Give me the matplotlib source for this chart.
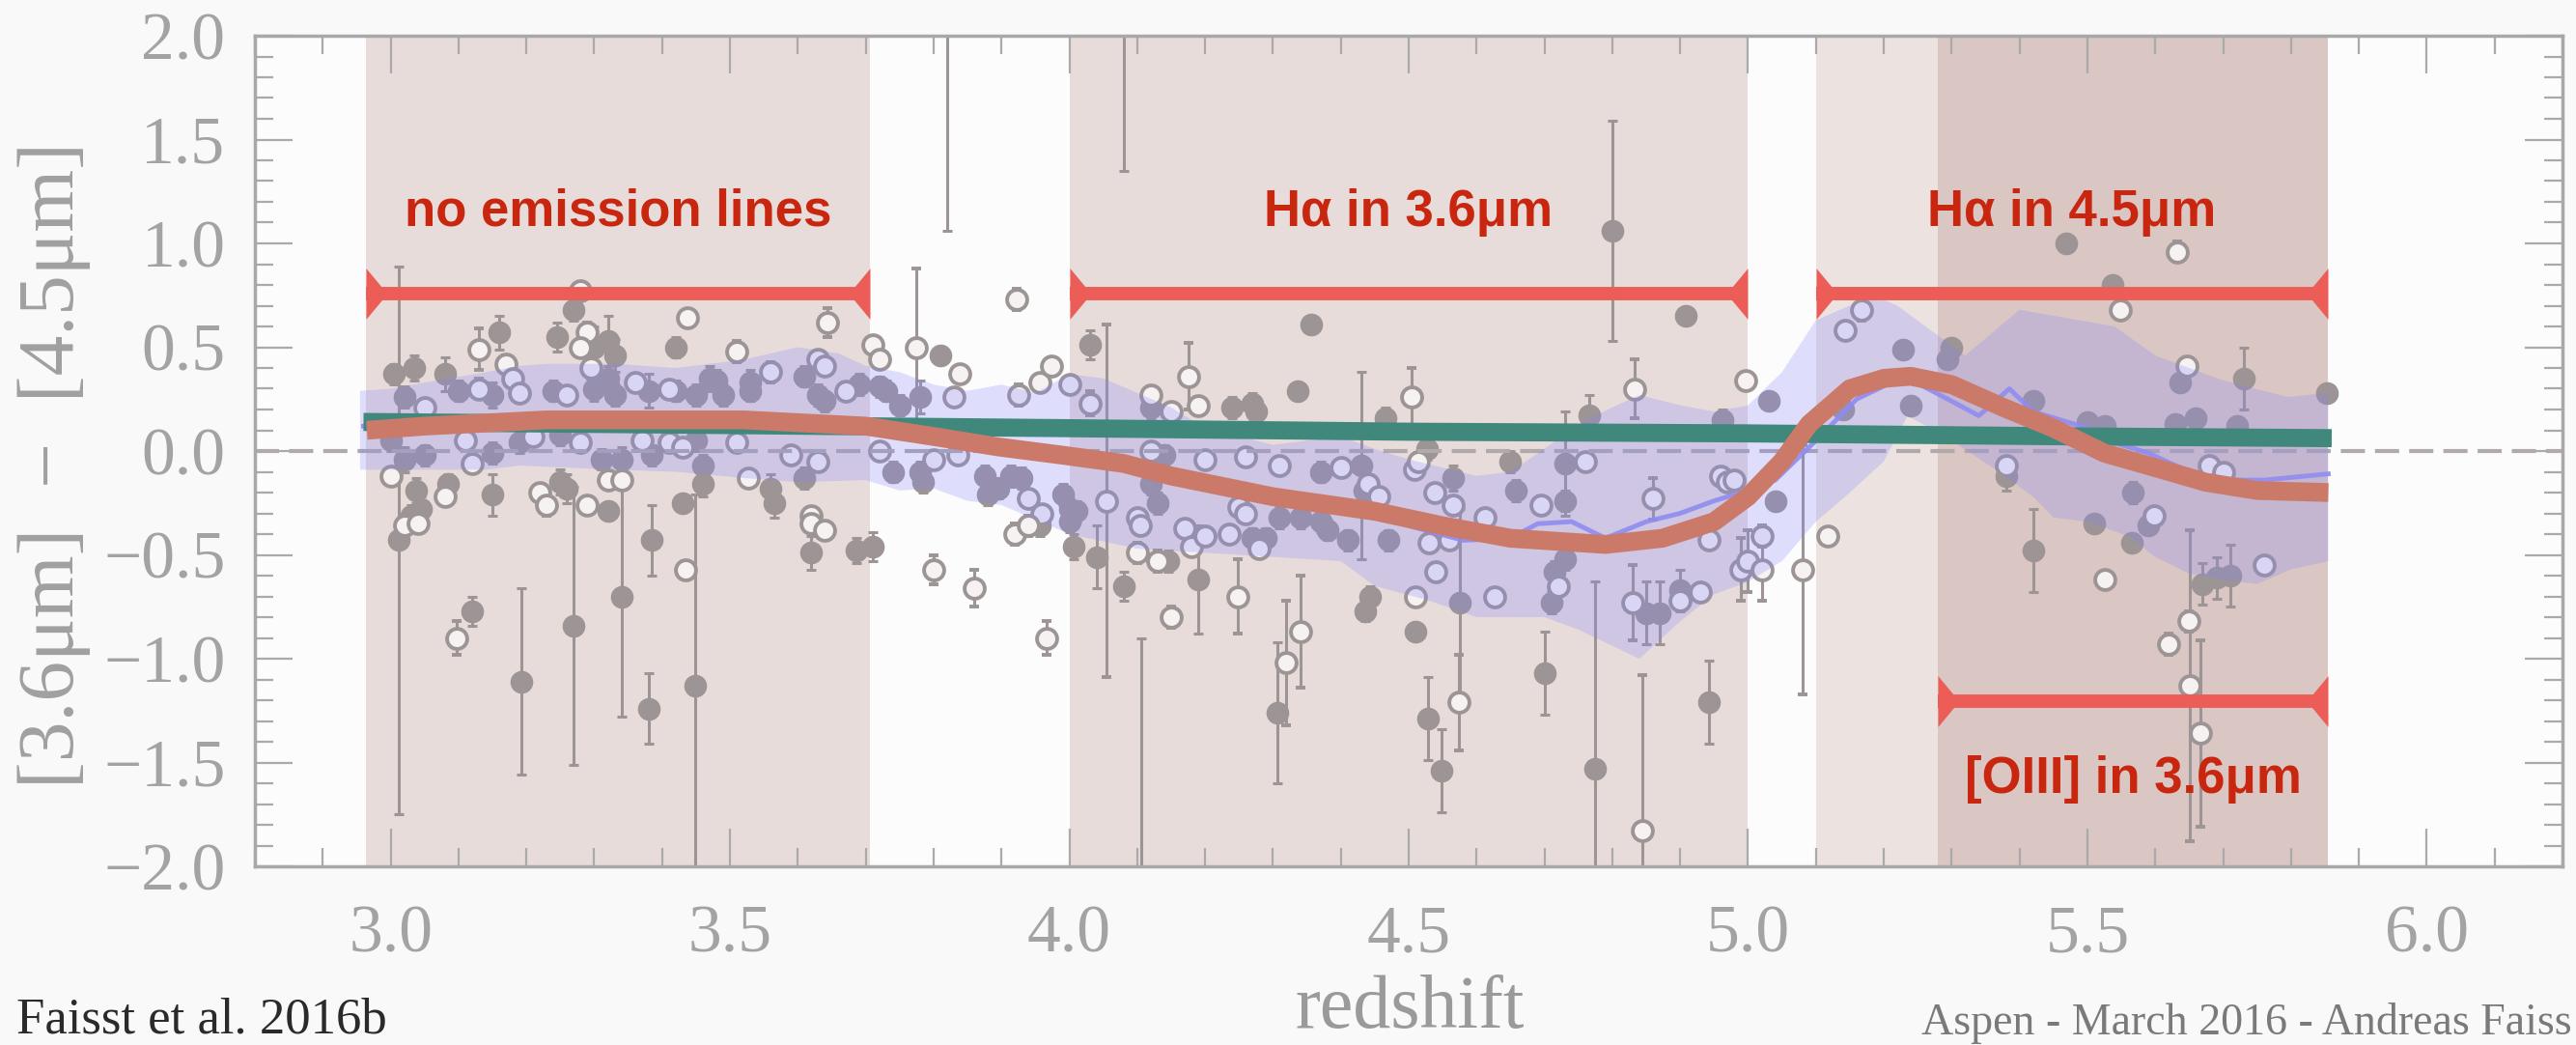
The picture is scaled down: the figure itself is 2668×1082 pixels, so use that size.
import numpy as np
import matplotlib
matplotlib.use("Agg")
import matplotlib.pyplot as plt
from matplotlib.path import Path
from matplotlib.ticker import MultipleLocator, FuncFormatter

# --- galaxies with filled symbols: redshift, colour, error
filled_z = [3.005, 3.035, 3.02, 3.08, 3.10, 3.15, 3.16, 3.245, 3.24, 3.27,
            3.30, 3.30, 3.32, 3.33, 3.32, 3.33, 3.38, 3.42, 3.42, 3.45,
            3.47, 3.48, 3.49, 3.53, 3.53, 3.61, 3.63, 3.64, 3.69, 3.72,
            3.73, 3.75, 3.78, 3.00, 3.02, 3.05, 3.15, 3.19, 3.25, 3.31,
            3.34, 3.385, 3.45, 3.46, 3.46, 3.037, 3.045, 3.03, 3.085, 3.15,
            3.25, 3.26, 3.32, 3.43, 3.56, 3.565, 3.61, 3.62, 3.686, 3.71,
            3.74, 3.78, 3.785, 3.875, 3.895, 3.914, 3.88, 3.93, 3.957, 3.99,
            4.01, 3.012, 3.12, 3.193, 3.269, 3.34, 3.384, 3.38, 3.449, 3.81,
            4.03, 4.08, 3.82, 4.80, 4.357, 4.908, 4.337, 4.24, 4.27, 4.275,
            4.12, 4.466, 4.766, 4.963, 5.03, 4.527, 4.65, 4.73, 4.14, 4.37,
            4.12, 4.13, 4.00, 4.00, 4.006, 4.04, 4.08, 4.106, 4.146, 4.19,
            4.27, 4.29, 4.31, 4.34, 4.37, 4.38, 4.307, 4.43, 4.435, 4.41,
            4.47, 4.443, 4.436, 4.566, 4.658, 4.73, 4.51, 4.528, 4.548, 4.576,
            4.70, 4.775, 4.71, 4.715, 4.73, 4.85, 4.87, 4.90, 4.943, 5.04,
            5.228, 5.30, 5.294, 5.24, 5.14, 5.42, 5.469, 5.537, 5.637, 5.73,
            5.853, 5.50, 5.525, 5.63, 5.66, 5.72, 5.38, 5.567, 5.59, 5.565,
            5.51, 5.42, 5.67, 5.69, 5.71]
filled_c = [0.37, 0.40, 0.26, 0.37, 0.29, 0.27, 0.57, 0.55, 0.29, 0.68,
            0.30, 0.50, 0.53, 0.46, 0.35, 0.27, 0.29, 0.50, 0.29, 0.27,
            0.35, 0.34, 0.27, 0.33, 0.29, 0.36, 0.27, 0.24, 0.32, 0.31,
            0.29, 0.22, 0.26, 0.05, -0.04, -0.02, -0.01, 0.04, 0.08, -0.04,
            -0.04, -0.02, 0.05, -0.07, -0.16, -0.19, -0.28, -0.31, -0.16, -0.21,
            -0.15, -0.18, -0.29, -0.25, -0.18, -0.25, -0.13, -0.49, -0.48, -0.46,
            -0.10, -0.10, -0.15, -0.12, -0.18, -0.12, -0.21, -0.13, -0.36, -0.21,
            -0.29, -0.43, -0.77, -1.11, -0.84, -0.70, -0.43, -1.24, -1.13, 0.46,
            0.51, 2.30, 2.20, 1.06, 0.61, 0.65, 0.29, 0.21, 0.23, 0.19,
            0.21, 0.16, 0.17, 0.15, 0.24, 0.01, -0.05, -0.06, -0.02, -0.10,
            -0.16, -0.25, -0.34, -0.28, -0.46, -0.51, -0.65, -2.30, -0.53, -0.62,
            -0.42, -0.42, -0.32, -0.32, -0.34, -0.38, -1.26, -0.07, -0.19, -0.43,
            -0.43, -0.70, -0.77, -0.13, -0.19, -0.24, -0.87, -1.29, -1.54, -0.73,
            -1.07, -1.53, -0.73, -0.58, -0.52, -0.78, -0.78, -0.67, -1.21, -0.24,
            0.49, 0.50, 0.44, 0.22, 0.20, 0.24, 1.00, 0.80, 0.33, 0.35,
            0.28, 0.14, 0.12, 0.13, 0.16, 0.12, -0.12, -0.20, -0.36, -0.44,
            -0.35, -0.48, -0.64, -0.61, -0.60]
filled_err = [0.05, 0.06, 0.05, 0.08, 0.05, 0.06, 0.08, 0.07, 0.05, 0.05,
              0.06, 0.10, 0.12, 0.08, 0.06, 0.05, 0.08, 0.05, 0.05, 0.05,
              0.06, 0.05, 0.05, 0.06, 0.05, 0.05, 0.05, 0.05, 0.05, 0.05,
              0.05, 0.05, 0.08, 0.05, 0.06, 0.05, 0.05, 0.05, 0.05, 0.05,
              0.06, 0.05, 0.05, 0.05, 0.06, 0.06, 0.06, 0.05, 0.05, 0.10,
              0.06, 0.07, 0.04, 0.03, 0.07, 0.07, 0.05, 0.08, 0.06, 0.07,
              0.05, 0.05, 0.05, 0.05, 0.05, 0.05, 0.05, 0.05, 0.05, 0.05,
              0.05, 1.32, 0.07, 0.45, 0.67, 0.58, 0.17, 0.17, 0.92, 0.04,
              0.07, 0.95, 1.14, 0.53, 0.03, 0.03, 0.03, 0.05, 0.05, 0.05,
              0.05, 0.05, 0.10, 0.05, 0.04, 0.05, 0.05, 0.25, 0.05, 0.05,
              0.05, 0.05, 0.05, 0.05, 0.06, 0.15, 0.07, 1.40, 0.05, 0.26,
              0.05, 0.05, 0.05, 0.05, 0.05, 0.05, 0.34, 0.45, 0.05, 0.05,
              0.05, 0.05, 0.05, 0.06, 0.05, 0.05, 0.03, 0.20, 0.20, 0.45,
              0.20, 0.90, 0.05, 0.05, 0.05, 0.15, 0.15, 0.10, 0.20, 0.04,
              0.04, 0.04, 0.04, 0.04, 0.04, 0.04, 0.02, 0.02, 0.03, 0.15,
              0.02, 0.03, 0.03, 0.04, 0.04, 0.04, 0.07, 0.05, 0.03, 0.02,
              0.02, 0.20, 0.10, 0.10, 0.15]

# --- galaxies with open symbols
open_z = [3.02, 3.04, 3.00, 3.08, 3.098, 3.13, 3.17, 3.18, 3.05, 3.13,
          3.19, 3.26, 3.295, 3.36, 3.41, 3.28, 3.29, 3.28, 3.438, 3.51,
          3.56, 3.643, 3.63, 3.71, 3.72, 3.64, 3.67, 3.11, 3.12, 3.21,
          3.28, 3.37, 3.41, 3.43, 3.51, 3.22, 3.23, 3.29, 3.32, 3.34,
          3.435, 3.527, 3.59, 3.63, 3.62, 3.62, 3.64, 3.72, 3.80, 3.835,
          3.775, 3.838, 3.83, 3.923, 3.925, 3.956, 3.973, 4.00, 4.03, 3.94,
          3.96, 4.055, 3.80, 3.86, 3.967, 3.92, 3.94, 4.10, 4.10, 4.105,
          4.13, 4.15, 4.17, 4.18, 4.20, 4.235, 4.248, 4.32, 4.34, 4.25,
          4.26, 4.28, 4.176, 4.19, 4.12, 4.15, 4.20, 4.26, 4.31, 4.12,
          4.40, 4.44, 4.456, 4.504, 4.833, 4.997, 4.76, 4.508, 4.514, 4.538,
          4.565, 4.695, 4.613, 4.96, 4.97, 4.98, 4.86, 4.53, 4.56, 4.54,
          4.51, 4.626, 4.574, 4.943, 4.99, 5.00, 5.02, 5.02, 4.72, 4.83,
          4.93, 4.90, 4.844, 5.081, 5.118, 5.143, 5.167, 5.633, 5.548, 5.647,
          5.38, 5.598, 5.525, 5.68, 5.70, 5.76, 5.65, 5.62, 5.651, 5.667]
open_c = [-0.36, -0.35, -0.12, -0.22, -0.90, 0.49, 0.42, 0.35, 0.21, 0.30,
          0.28, 0.27, 0.40, 0.33, 0.30, 0.77, 0.57, 0.50, 0.64, 0.48,
          0.38, 0.62, 0.44, 0.51, 0.44, 0.41, 0.29, 0.05, -0.06, 0.07,
          0.04, 0.05, 0.04, 0.02, 0.04, -0.20, -0.26, -0.26, -0.14, -0.14,
          -0.57, -0.13, -0.02, -0.05, -0.31, -0.35, -0.38, 0.00, -0.04, -0.02,
          0.50, 0.37, 0.26, 0.73, 0.27, 0.33, 0.41, 0.32, 0.23, -0.23,
          -0.30, -0.24, -0.57, -0.66, -0.90, -0.40, -0.36, -0.49, -0.32, -0.36,
          -0.53, -0.80, -0.37, -0.46, -0.41, -0.40, -0.70, -1.02, -0.87, -0.27,
          -0.30, -0.47, 0.36, 0.22, 0.27, 0.19, -0.04, -0.03, -0.07, 0.00,
          -0.08, -0.16, -0.22, 0.26, 0.30, 0.34, -0.05, -0.09, -0.05, -0.20,
          -0.26, -0.26, -0.32, -0.12, -0.15, -0.14, -0.23, -0.44, -0.43, -0.58,
          -0.70, -0.70, -1.21, -0.43, -0.57, -0.53, -0.57, -0.41, -0.65, -0.73,
          -0.68, -0.72, -1.83, -0.57, -0.41, 0.58, 0.68, 0.96, 0.68, 0.41,
          -0.07, -0.31, -0.62, -0.07, -0.10, -0.55, -0.82, -0.93, -1.13, -1.36]
open_err = [0.04, 0.04, 0.04, 0.04, 0.08, 0.10, 0.04, 0.04, 0.04, 0.05,
            0.04, 0.04, 0.05, 0.04, 0.04, 0.04, 0.05, 0.04, 0.04, 0.05,
            0.05, 0.07, 0.04, 0.04, 0.04, 0.04, 0.04, 0.04, 0.04, 0.04,
            0.04, 0.04, 0.04, 0.04, 0.04, 0.04, 0.05, 0.04, 0.04, 0.04,
            0.04, 0.04, 0.04, 0.04, 0.04, 0.04, 0.04, 0.04, 0.04, 0.04,
            0.38, 0.04, 0.04, 0.05, 0.05, 0.03, 0.03, 0.04, 0.06, 0.04,
            0.04, 0.85, 0.07, 0.09, 0.08, 0.05, 0.05, 0.05, 0.04, 0.04,
            0.05, 0.05, 0.04, 0.04, 0.04, 0.04, 0.18, 0.30, 0.27, 0.04,
            0.04, 0.04, 0.16, 0.04, 0.04, 0.04, 0.04, 0.04, 0.04, 0.04,
            0.04, 0.04, 0.04, 0.14, 0.14, 0.03, 0.04, 0.04, 0.04, 0.04,
            0.04, 0.04, 0.04, 0.04, 0.04, 0.04, 0.10, 0.04, 0.04, 0.04,
            0.04, 0.04, 0.23, 0.04, 0.15, 0.15, 0.15, 0.05, 0.04, 0.18,
            0.04, 0.04, 0.75, 0.60, 0.03, 0.03, 0.05, 0.05, 0.03, 0.03,
            0.04, 0.04, 0.04, 0.04, 0.04, 0.03, 0.05, 0.05, 0.75, 0.45]

# --- running median and its scatter
band_hi_z = [2.955, 3.0, 3.05, 3.14, 3.19, 3.23, 3.33, 3.42, 3.52, 3.60,
             3.66, 3.70, 3.75, 3.80, 3.85, 3.90, 3.95, 4.0, 4.05, 4.10,
             4.15, 4.20, 4.25, 4.30, 4.35, 4.40, 4.45, 4.50, 4.55, 4.60,
             4.65, 4.70, 4.75, 4.80, 4.84, 4.90, 4.95, 5.0, 5.05, 5.10,
             5.185, 5.22, 5.32, 5.40, 5.54, 5.60, 5.65, 5.70, 5.795, 5.855]
band_hi = [0.29, 0.30, 0.33, 0.38, 0.41, 0.42, 0.42, 0.40, 0.44, 0.50,
           0.47, 0.41, 0.38, 0.32, 0.29, 0.32, 0.28, 0.37, 0.35, 0.28,
           0.21, 0.11, 0.07, 0.03, 0.05, 0.07, 0.01, -0.04, -0.08, -0.12,
           -0.10, 0.01, 0.13, 0.21, 0.27, 0.22, 0.19, 0.22, 0.38, 0.63,
           0.75, 0.70, 0.46, 0.68, 0.60, 0.46, 0.40, 0.34, 0.26, 0.28]
band_lo_z = [2.955, 3.0, 3.14, 3.19, 3.33, 3.42, 3.52, 3.60, 3.70, 3.75,
             3.80, 3.85, 3.90, 3.95, 4.0, 4.10, 4.20, 4.30, 4.40, 4.45,
             4.53, 4.60, 4.70, 4.75, 4.84, 4.90, 4.95, 5.0, 5.05, 5.10,
             5.15, 5.20, 5.235, 5.30, 5.37, 5.42, 5.45, 5.50, 5.56, 5.60,
             5.65, 5.70, 5.75, 5.80, 5.855]
band_lo = [-0.09, -0.09, -0.09, -0.07, -0.09, -0.10, -0.13, -0.15, -0.14, -0.19,
           -0.18, -0.24, -0.26, -0.33, -0.40, -0.47, -0.49, -0.51, -0.53, -0.65,
           -0.72, -0.80, -0.80, -0.86, -1.00, -0.82, -0.69, -0.63, -0.53, -0.34,
           -0.20, -0.05, 0.17, 0.05, -0.10, -0.22, -0.32, -0.34, -0.41, -0.51,
           -0.59, -0.62, -0.64, -0.57, -0.53]
median_z = [2.96, 3.2, 3.5, 3.7, 3.9, 4.1, 4.3, 4.45, 4.50, 4.58,
            4.65, 4.69, 4.74, 4.79, 4.85, 4.90, 4.95, 4.99, 5.04, 5.10,
            5.16, 5.23, 5.30, 5.34, 5.385, 5.42, 5.50, 5.55, 5.59, 5.65,
            5.70, 5.76, 5.855]
median_c = [0.12, 0.15, 0.15, 0.11, 0.03, -0.08, -0.20, -0.30, -0.36, -0.43,
            -0.42, -0.35, -0.34, -0.42, -0.34, -0.30, -0.24, -0.20, -0.14, 0.05,
            0.25, 0.36, 0.24, 0.17, 0.30, 0.19, 0.11, 0.03, -0.01, -0.10,
            -0.14, -0.14, -0.11]

# --- model tracks
model_el_z = [2.965, 3.05, 3.23, 3.52, 3.70, 3.80, 3.895, 3.99, 4.08, 4.15,
              4.30, 4.45, 4.55, 4.65, 4.79, 4.874, 4.95, 5.0, 5.05, 5.09,
              5.15, 5.20, 5.24, 5.30, 5.376, 5.45, 5.525, 5.60, 5.674, 5.75,
              5.855]
model_el_c = [0.10, 0.12, 0.15, 0.15, 0.12, 0.07, 0.02, -0.02, -0.06, -0.12,
              -0.22, -0.29, -0.36, -0.42, -0.45, -0.42, -0.34, -0.22, -0.05, 0.13,
              0.30, 0.35, 0.36, 0.32, 0.21, 0.11, -0.01, -0.08, -0.15, -0.19,
              -0.20]
model_noel_z = [2.96, 3.5, 4.0, 4.5, 5.0, 5.5, 5.86]
model_noel_c = [0.14, 0.125, 0.11, 0.093, 0.085, 0.07, 0.062]

# --- annotated redshift windows
windows = [(2.963, 3.706), (4.0, 5.0), (5.1, 5.855)]
oiii_window = (5.28, 5.855)
arrow_labels = ["no emission lines", "H\u03b1 in 3.6\u03bcm", "H\u03b1 in 4.5\u03bcm"]
arrow_y = 0.76
label_y = 1.085
oiii_label = "[OIII] in 3.6\u03bcm"
oiii_arrow_y = -1.205
oiii_label_y = -1.647

W, H = 2668, 1082
fig = plt.figure(figsize=(W / 100, H / 100), dpi=100, facecolor="#f9f9f9")
ax = fig.add_axes([264 / W, 1 - 897 / H, (2654 - 264) / W, (897 - 37) / H])
ax.set_facecolor("#fcfcfc")

serif = ["Liberation Serif", "DejaVu Serif"]
grey_pt = "#9d9595"
red_arrow = "#ec5d58"
red_text = "#c8260e"

# shaded windows
ax.axvspan(*windows[0], color="#e7dcda", lw=0, zorder=0)
ax.axvspan(*windows[1], color="#e7dcda", lw=0, zorder=0)
ax.axvspan(windows[2][0], oiii_window[0], color="#ece3e1", lw=0, zorder=0)
ax.axvspan(*oiii_window, color="#dac6c3", lw=0, zorder=0)

ax.axhline(0, color="#b0aaaa", lw=3, dashes=(6, 2.5), zorder=2.5)

ax.errorbar(filled_z, filled_c, yerr=filled_err, fmt="o", ms=16,
            color=grey_pt, mfc=grey_pt, mec=grey_pt, elinewidth=2.2,
            capsize=3.8, capthick=2.2, zorder=2)
ax.errorbar(open_z, open_c, yerr=open_err, fmt="o", ms=15,
            color=grey_pt, mfc="#f6f2f2", mec=grey_pt, mew=2.8,
            elinewidth=2.2, capsize=3.8, capthick=2.2, zorder=2)

band_x = np.concatenate([band_hi_z, band_lo_z[::-1]])
band_y = np.concatenate([band_hi, band_lo[::-1]])
ax.fill(band_x, band_y, color="#8080ff", alpha=0.24, lw=0, zorder=3)
ax.plot(median_z, median_c, color="#8f8cf0", lw=3.5, alpha=0.9, zorder=3.5)

ax.plot(model_noel_z, model_noel_c, color="#40887c", lw=13.5,
        solid_capstyle="butt", zorder=4)
ax.plot(model_el_z, model_el_c, color="#cb7a69", lw=14,
        solid_capstyle="butt", solid_joinstyle="round", zorder=5)

# double arrows with flat triangular ends
head_l = Path([(0, -1), (0, 1), (0.83, 0), (0, -1)], closed=True)
head_r = Path([(0, -1), (0, 1), (-0.83, 0), (0, -1)], closed=True)


def span_arrow(x0, x1, y):
    ax.plot([x0, x1], [y, y], color=red_arrow, lw=10, solid_capstyle="butt",
            zorder=10)
    ax.plot([x0], [y], marker=head_l, ms=38, mfc=red_arrow, mew=0, zorder=10)
    ax.plot([x1], [y], marker=head_r, ms=38, mfc=red_arrow, mew=0, zorder=10)


for (x0, x1), label in zip(windows, arrow_labels):
    span_arrow(x0, x1, arrow_y)
    ax.text((x0 + x1) / 2, label_y, label, ha="center", va="baseline",
            fontsize=38, fontweight="bold", color=red_text,
            family=["Liberation Sans", "DejaVu Sans"], zorder=11)
span_arrow(oiii_window[0], oiii_window[1], oiii_arrow_y)
ax.text(sum(oiii_window) / 2, oiii_label_y, oiii_label, ha="center",
        va="baseline", fontsize=38, fontweight="bold", color=red_text,
        family=["Liberation Sans", "DejaVu Sans"], zorder=11)

ax.set_xlim(2.8, 6.2)
ax.set_ylim(-2.0, 2.0)
ax.xaxis.set_major_locator(MultipleLocator(0.5))
ax.xaxis.set_minor_locator(MultipleLocator(0.1))
ax.yaxis.set_major_locator(MultipleLocator(0.5))
ax.yaxis.set_minor_locator(MultipleLocator(0.1))
fmt = FuncFormatter(lambda v, p: f"{v:.1f}".replace("-", "\u2212"))
ax.xaxis.set_major_formatter(fmt)
ax.yaxis.set_major_formatter(fmt)
ax.tick_params(which="both", direction="in", top=True, right=True,
               color="#aaaaaa", width=1.6, labelcolor="#a3a3a3",
               labelsize=50)
ax.tick_params(which="major", length=28)
ax.tick_params(which="minor", length=14)
ax.tick_params(axis="x", pad=29)
ax.tick_params(axis="y", pad=22)
for lab in ax.get_xticklabels() + ax.get_yticklabels():
    lab.set_family(serif)
for sp in ax.spines.values():
    sp.set_color("#a8a8a8")
    sp.set_linewidth(2.5)

fig.text(1460 / W, 1 - 1064 / H, "redshift", ha="center", va="baseline",
         fontsize=56, color="#9a9a9a", family=serif)
fig.text(56 / W, 1 - 482 / H, "[3.6\u03bcm]  \u2212  [4.5\u03bcm]",
         rotation=90, ha="center", va="center", fontsize=60,
         color="#a0a0a0", family=serif)
fig.text(17 / W, 1 - 1070 / H, "Faisst et al. 2016b", ha="left",
         va="baseline", fontsize=38, color="#2a2a2a", family=serif)
fig.text(1990 / W, 1 - 1071 / H, "Aspen - March 2016 - Andreas Faiss",
         ha="left", va="baseline", fontsize=33, color="#7a7a7a",
         family=serif)

fig.savefig("out.png", dpi=100, facecolor=fig.get_facecolor())
